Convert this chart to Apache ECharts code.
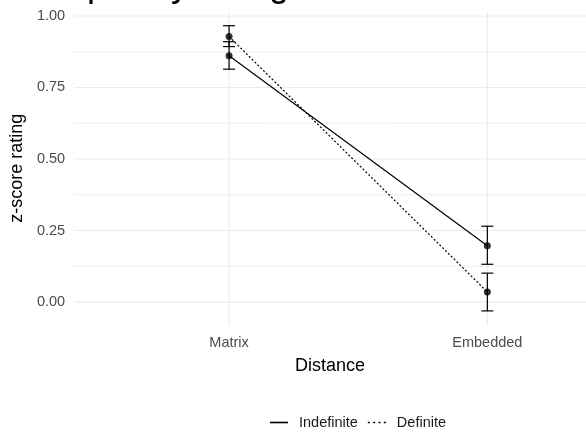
<!DOCTYPE html>
<html>
<head>
<meta charset="utf-8">
<script src="https://cdn.jsdelivr.net/npm/echarts@6/dist/echarts.min.js"></script>
<style>html,body{margin:0;padding:0;background:#fff;}#c{width:586px;height:435px;}</style>
</head>
<body>
<div id="c"></div>
<script>
// ---- data ----
var categories = ['Matrix', 'Embedded'];
var indefiniteMean = [0.861, 0.197];
var indefiniteLow  = [0.814, 0.132];
var indefiniteHigh = [0.910, 0.265];
var definiteMean = [0.928, 0.035];
var definiteLow  = [0.893, -0.031];
var definiteHigh = [0.966, 0.101];
var yTicks = [0, 0.25, 0.5, 0.75, 1.0];
var yMinorTicks = [0.125, 0.375, 0.625, 0.875];

// ---- build ----
var xPos = categories.map(function (c, i) { return i + 1; });
function pts(m) { return m.map(function (v, i) { return [xPos[i], v]; }); }
function bars(lo, hi) { return lo.map(function (v, i) { return [xPos[i], v, hi[i]]; }); }

var FONT = 'Liberation Sans, Arial, sans-serif';
var chart = echarts.init(document.getElementById('c'));

function hGrid(values, width) {
  return {
    type: 'custom', silent: true, z: 0,
    data: values.map(function (v) { return [v]; }),
    renderItem: function (params, api) {
      var cs = params.coordSys;
      var y = api.coord([1, api.value(0)])[1];
      return { type: 'line', shape: { x1: cs.x, y1: y, x2: cs.x + cs.width, y2: y },
        style: { stroke: '#ebebeb', lineWidth: width } };
    }
  };
}
function vGrid(values, width) {
  return {
    type: 'custom', silent: true, z: 0,
    data: values.map(function (v) { return [v]; }),
    renderItem: function (params, api) {
      var cs = params.coordSys;
      var x = api.coord([api.value(0), 0])[0];
      return { type: 'line', shape: { x1: x, y1: cs.y, x2: x, y2: cs.y + cs.height },
        style: { stroke: '#ebebeb', lineWidth: width } };
    }
  };
}
function errBars(data) {
  return {
    type: 'custom', silent: true, z: 5,
    data: data,
    renderItem: function (params, api) {
      var x = api.value(0);
      var lo = api.coord([x, api.value(1)]);
      var hi = api.coord([x, api.value(2)]);
      var hw = 6;
      var st = { stroke: '#000', lineWidth: 1.2 };
      return { type: 'group', children: [
        { type: 'line', shape: { x1: lo[0], y1: lo[1], x2: hi[0], y2: hi[1] }, style: st },
        { type: 'line', shape: { x1: lo[0] - hw, y1: lo[1], x2: lo[0] + hw, y2: lo[1] }, style: st },
        { type: 'line', shape: { x1: hi[0] - hw, y1: hi[1], x2: hi[0] + hw, y2: hi[1] }, style: st }
      ] };
    }
  };
}

var solidIcon = 'path://M0,0H18V1.6H0Z';
var dottedIcon = 'path://M0,0H2V1.6H0Z M5.33,0H7.33V1.6H5.33Z M10.67,0H12.67V1.6H10.67Z M16,0H18V1.6H16Z';

chart.setOption({
  animation: false,
  backgroundColor: '#fff',
  title: {
    text: 'Complexity rating', left: 6, top: -37,
    textStyle: { fontFamily: FONT, fontSize: 36, fontWeight: 'normal', color: '#000' }
  },
  grid: { left: 70.7, top: 11.4, right: 0, height: 313.8, containLabel: false },
  legend: {
    left: 265, top: 410,
    itemWidth: 18, itemHeight: 1.6, itemGap: 10,
    data: [{ name: 'Indefinite', icon: solidIcon }, { name: 'Definite', icon: dottedIcon }],
    textStyle: { fontFamily: FONT, fontSize: 14.5, color: '#1a1a1a', padding: [0, 0, 0, 6] }
  },
  xAxis: {
    type: 'value', min: 0.4, max: 2.382,
    name: 'Distance', nameLocation: 'middle', nameGap: 32,
    nameTextStyle: { fontFamily: FONT, fontSize: 18, color: '#000' },
    axisLine: { show: false }, axisTick: { show: false }, splitLine: { show: false },
    axisLabel: {
      customValues: xPos, margin: 10,
      fontFamily: FONT, fontSize: 14.5, color: '#4d4d4d',
      formatter: function (v) { return categories[Math.round(v) - 1] || ''; }
    }
  },
  yAxis: {
    type: 'value', min: -0.081, max: 1.016,
    name: 'z-score rating', nameLocation: 'middle', nameGap: 34, nameRotate: 90,
    nameTextStyle: { fontFamily: FONT, fontSize: 18, color: '#000' },
    axisLine: { show: false }, axisTick: { show: false }, splitLine: { show: false },
    axisLabel: {
      customValues: yTicks, margin: 9,
      fontFamily: FONT, fontSize: 14.5, color: '#4d4d4d',
      formatter: function (v) { return Number(v).toFixed(2); }
    }
  },
  series: [
    hGrid(yMinorTicks, 0.8),
    hGrid(yTicks, 1.2),
    vGrid(xPos, 1.2),
    errBars(bars(indefiniteLow, indefiniteHigh)),
    errBars(bars(definiteLow, definiteHigh)),
    { name: 'Indefinite', type: 'line', data: pts(indefiniteMean), symbol: 'none', z: 4,
      lineStyle: { color: '#000', width: 1.2, type: 'solid' }, itemStyle: { color: '#000' } },
    { name: 'Definite', type: 'line', data: pts(definiteMean), symbol: 'none', z: 4,
      lineStyle: { color: '#000', width: 1.2, type: [2, 2] }, itemStyle: { color: '#000' } },
    { type: 'scatter', data: pts(indefiniteMean), symbolSize: 7, z: 6, itemStyle: { color: '#000' } },
    { type: 'scatter', data: pts(definiteMean), symbolSize: 7, z: 6, itemStyle: { color: '#000' } }
  ]
});
</script>
</body>
</html>
